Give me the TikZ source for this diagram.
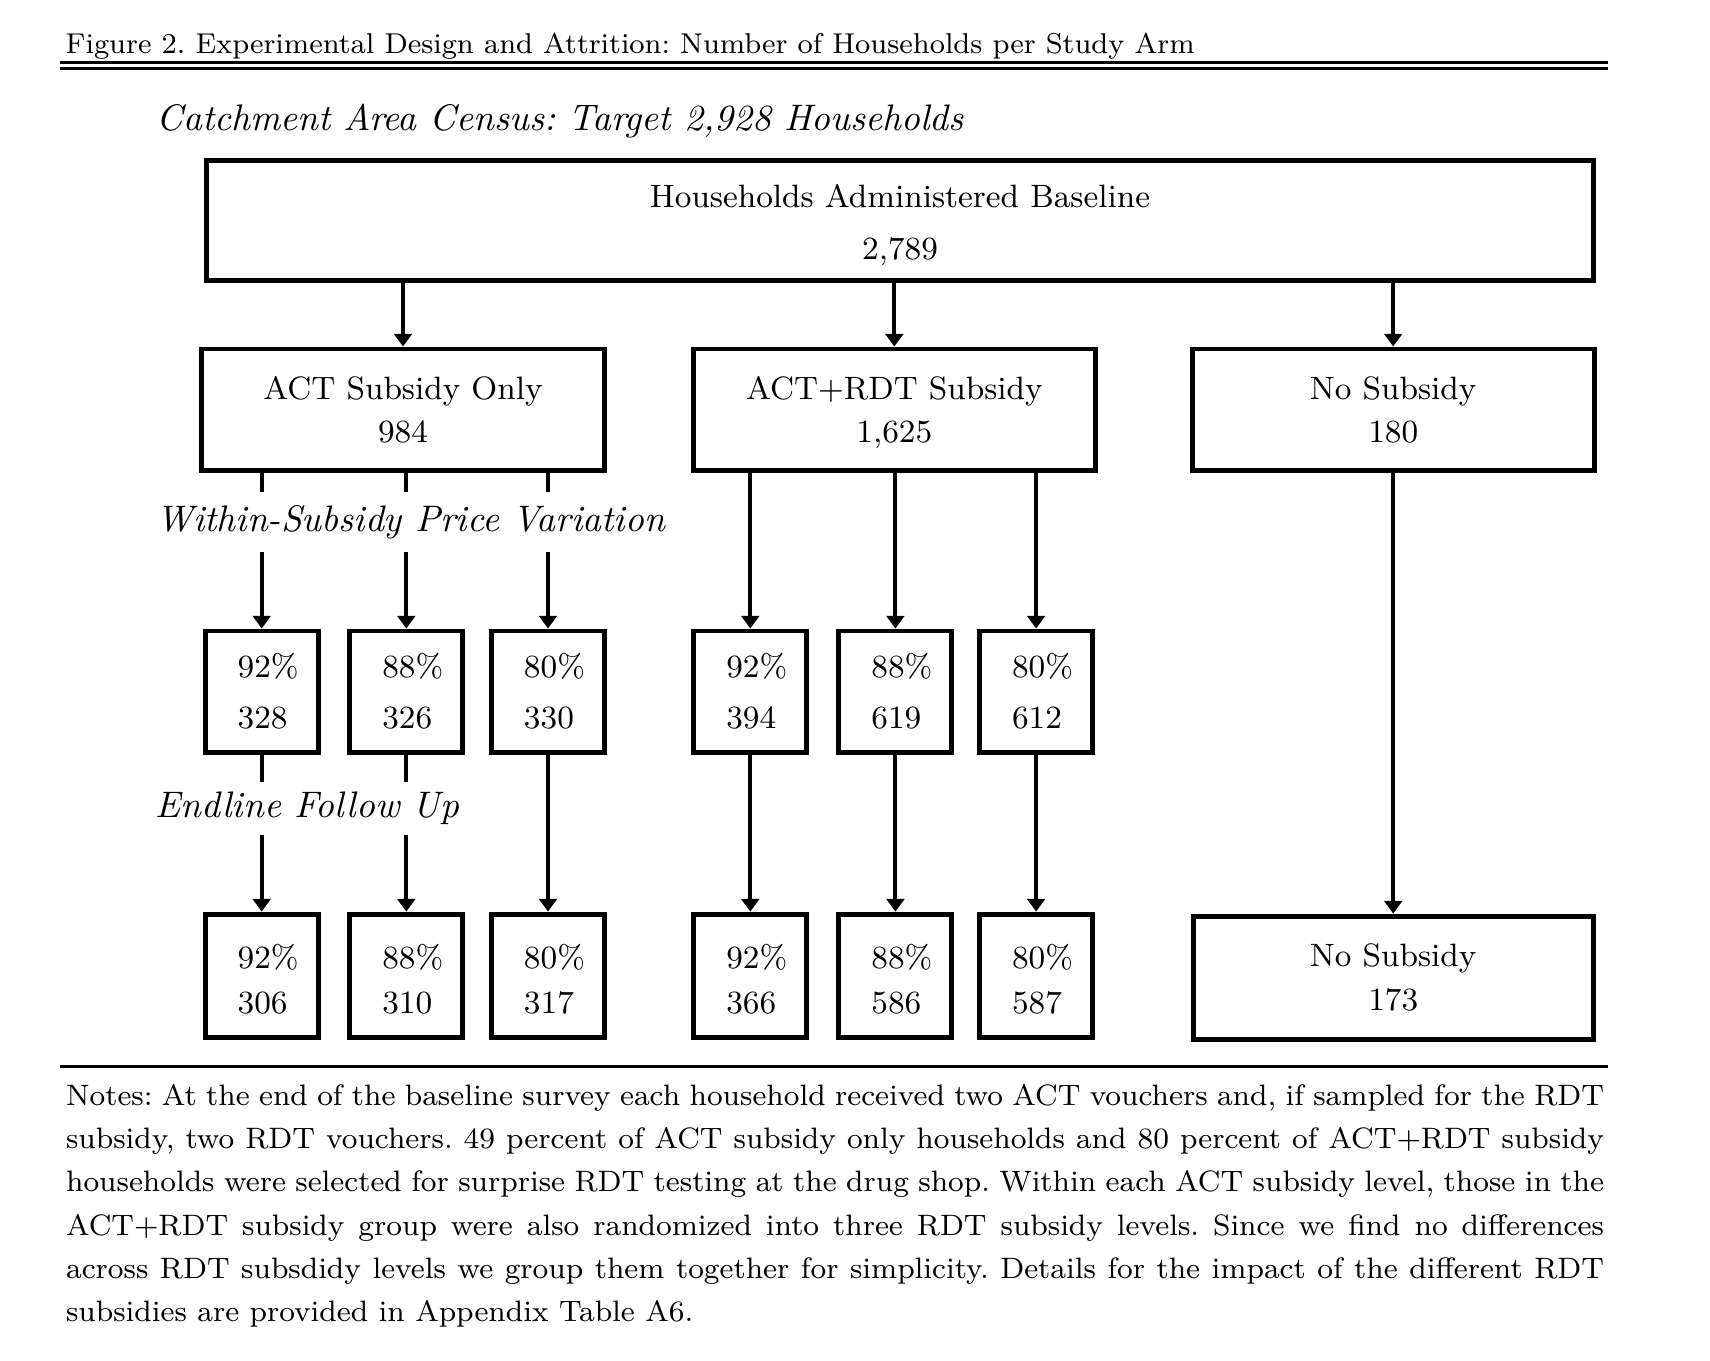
\documentclass[tikz,border=0pt]{standalone}
\usepackage{tikz}
\usetikzlibrary{positioning, arrows.meta}
\frenchspacing

\begin{document}
\begin{tikzpicture}[
  x=0.01cm, y=-0.01cm,
  every node/.style={font=\fontsize{9.2}{12.2}\selectfont},
  armbox/.style={
    rectangle, draw=black, line width=1.4pt,
    minimum width=4.02cm, minimum height=1.21cm,
    align=center, inner sep=0pt
  },
  cellbox/.style={
    rectangle, draw=black, line width=1.4pt,
    minimum width=1.13cm, minimum height=1.21cm,
    text width=0.48cm, align=left, inner sep=0pt
  },
  endcell/.style={cellbox, minimum height=1.23cm,
    execute at begin node={\rule{0pt}{9.2pt}}},
  phase/.style={
    font=\fontsize{10.5}{13}\selectfont\itshape,
    inner sep=0pt, minimum height=#1
  },
  arrow/.style={-{Triangle[length=3.6pt, width=5pt]}, line width=1.1pt},
  stub/.style={line width=1.1pt},
  rule/.style={line width=0.85pt}
]
\useasboundingbox (0,0) rectangle (1710,1360);

% ── Caption and rules ─────────────────────────────────────────────────────────
\node[anchor=west, inner sep=0pt, font=\fontsize{8.15}{10}\selectfont]
  (caption) at (65,45.8)
  {Figure 2. Experimental Design and Attrition: Number of Households per Study Arm};
\draw[rule] (60,62.5) -- (1607.6,62.5);
\draw[rule] (60,68.2) -- (1607.6,68.2);

\node[anchor=west, inner sep=0pt, font=\fontsize{10.5}{13}\selectfont\itshape]
  (census) at (156,121)
  {Catchment Area Census: Target 2,928 Households};

% ── Baseline and arms ─────────────────────────────────────────────────────────
\node[armbox, minimum width=13.86cm, minimum height=1.2cm]
  (base) at (900,220.2)
  {\rule{0pt}{7.7pt}Households Administered Baseline\\[2.4pt] 2\smash{,}789};

\node[armbox] (act)   at (403,409.5)    {ACT Subsidy Only\\ 984};
\node[armbox] (rdt)   at (894.3,409.5)  {ACT+RDT Subsidy\\ 1\smash{,}625};
\node[armbox] (nosub) at (1393.2,409.5) {No Subsidy\\ 180};

\draw[arrow] (act.north |- base.south)   -- (act.north);
\draw[arrow] (rdt.north |- base.south)   -- (rdt.north);
\draw[arrow] (nosub.north |- base.south) -- (nosub.north);

% ── Price levels at baseline ──────────────────────────────────────────────────
\node[cellbox] (a92) at (261.7,691.5)  {92\%\\[2.4pt] 328};
\node[cellbox] (a88) at (406.3,691.5)  {88\%\\[2.4pt] 326};
\node[cellbox] (a80) at (548,691.5)    {80\%\\[2.4pt] 330};
\node[cellbox] (r92) at (750.3,691.5)  {92\%\\[2.4pt] 394};
\node[cellbox] (r88) at (895.4,691.5)  {88\%\\[2.4pt] 619};
\node[cellbox] (r80) at (1036.1,691.5) {80\%\\[2.4pt] 612};

\node[phase=0.58cm] (within) at (410.6,522)
  {Within-Subsidy Price Variation};

\draw[stub]  (a92 |- act.south) -- (a92 |- within.north);
\draw[stub]  (a88 |- act.south) -- (a88 |- within.north);
\draw[stub]  (a80 |- act.south) -- (a80 |- within.north);
\draw[arrow] (a92 |- within.south) -- (a92.north);
\draw[arrow] (a88 |- within.south) -- (a88.north);
\draw[arrow] (a80 |- within.south) -- (a80.north);

\draw[arrow] (r92 |- rdt.south) -- (r92.north);
\draw[arrow] (r88 |- rdt.south) -- (r88.north);
\draw[arrow] (r80 |- rdt.south) -- (r80.north);

% ── Endline ───────────────────────────────────────────────────────────────────
\node[endcell, below=1.57cm of a92] (e92) {92\%\\[0.6pt] 306};
\node[endcell, below=1.57cm of a88] (e88) {88\%\\[0.6pt] 310};
\node[endcell, below=1.57cm of a80] (e80) {80\%\\[0.6pt] 317};
\node[endcell, below=1.57cm of r92] (f92) {92\%\\[0.6pt] 366};
\node[endcell, below=1.57cm of r88] (f88) {88\%\\[0.6pt] 586};
\node[endcell, below=1.57cm of r80] (f80) {80\%\\[0.6pt] 587};
\node[armbox, minimum width=4.0cm, minimum height=1.23cm] (nosubend)
  at (1393.2,977.6) {No Subsidy\\[0.4pt] 173};

\node[phase=0.51cm] (endline) at (307.5,808.5) {Endline Follow Up};

\draw[stub]  (a92.south) -- (a92 |- endline.north);
\draw[stub]  (a88.south) -- (a88 |- endline.north);
\draw[arrow] (a92 |- endline.south) -- (e92.north);
\draw[arrow] (a88 |- endline.south) -- (e88.north);
\draw[arrow] (a80.south) -- (e80.north);

\draw[arrow] (r92.south) -- (f92.north);
\draw[arrow] (r88.south) -- (f88.north);
\draw[arrow] (r80.south) -- (f80.north);
\draw[arrow] (nosub.south) -- (nosubend.north);

% ── Notes ─────────────────────────────────────────────────────────────────────
\draw[rule] (60,1066.6) -- (1607.6,1066.6);
\node[anchor=north west, inner sep=0pt, text width=15.37cm, align=justify,
      font=\fontsize{8.4}{12.25}\selectfont]
  (notes) at (65.4,1084)
  {Notes: At the end of the baseline survey each household received two ACT vouchers and, if sampled for the RDT\linebreak
   subsidy, two RDT vouchers. 49 percent of ACT subsidy only households and 80 percent of ACT+RDT subsidy\linebreak
   households were selected for surprise RDT testing at the drug shop. Within each ACT subsidy level, those in the\linebreak
   ACT+RDT subsidy group were also randomized into three RDT subsidy levels. Since we find no differences\linebreak
   across RDT subsdidy levels we group them together for simplicity. Details for the impact of the different RDT\linebreak
   subsidies are provided in Appendix Table A6.};

\end{tikzpicture}
\end{document}
